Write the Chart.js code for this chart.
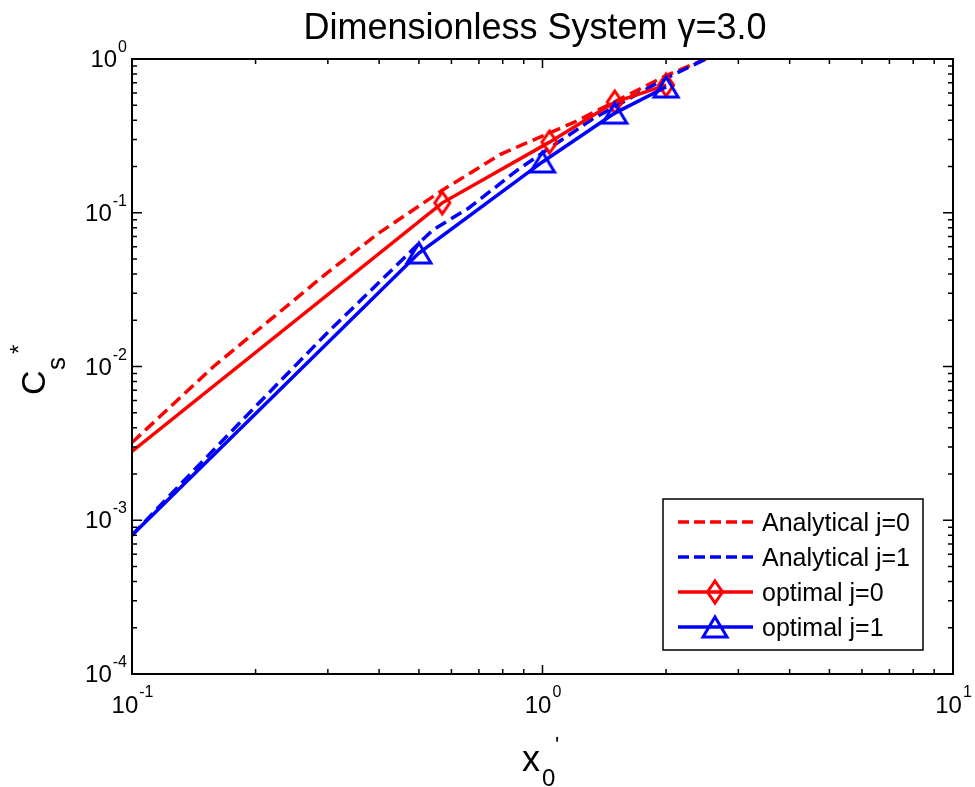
<!DOCTYPE html>
<html>
<head>
<meta charset="utf-8">
<script src="https://cdn.jsdelivr.net/npm/chart.js@4.4.1/dist/chart.umd.min.js"></script>
<style>
  html, body { margin: 0; padding: 0; background: #fff; }
  #plot { display: block; }
</style>
</head>
<body>
<canvas id="plot" width="975" height="787"></canvas>
<script>
// analytical solutions
const anaJ0X = [0.1, 0.158, 0.30, 0.40, 0.57, 0.79, 1.2, 2.0, 2.5, 3.0];
const anaJ0Y = [3.2e-3, 1.0e-2, 0.041, 0.074, 0.14, 0.24, 0.39, 0.78, 1.0, 1.25];
const anaJ1X = [0.1, 0.13, 0.2, 0.3, 0.46, 0.54, 0.66, 0.87, 1.0, 1.33, 2.0, 2.5, 3.0];
const anaJ1Y = [8.0e-4, 1.67e-3, 5.5e-3, 0.0167, 0.0508, 0.0772, 0.107, 0.19, 0.245, 0.41, 0.75, 1.0, 1.3];

// optimised solutions
const optJ0X = [0.1, 0.57, 1.04, 1.5, 2.0];
const optJ0Y = [2.8e-3, 0.116, 0.288, 0.525, 0.677];
const optJ1X = [0.1, 0.5, 1.0, 1.5, 2.0];
const optJ1Y = [8.0e-4, 0.0547, 0.214, 0.445, 0.657];

// decade labels
const xTicks = [0.1, 1, 10];
const xTickExp = ['-1', '0', '1'];
const yTicks = [1e-4, 1e-3, 1e-2, 1e-1, 1];
const yTickExp = ['-4', '-3', '-2', '-1', '0'];

const legendLabels = ['Analytical j=0', 'Analytical j=1', 'optimal j=0', 'optimal j=1'];

const FONT = '"Liberation Sans", Arial, sans-serif';
const RED = '#ff0000';
const BLUE = '#0000ff';

function markerDiamond(color) {
    const c = document.createElement('canvas');
    c.width = 22;
    c.height = 28;
    const g = c.getContext('2d');
    g.strokeStyle = color;
    g.lineWidth = 3;
    g.beginPath();
    g.moveTo(11, 3);
    g.lineTo(18.5, 14);
    g.lineTo(11, 25);
    g.lineTo(3.5, 14);
    g.closePath();
    g.stroke();
    return c;
}

function markerTriangle(color) {
    const c = document.createElement('canvas');
    c.width = 30;
    c.height = 26;
    const g = c.getContext('2d');
    g.strokeStyle = color;
    g.lineWidth = 3;
    g.lineJoin = 'miter';
    g.beginPath();
    g.moveTo(15, 3);
    g.lineTo(27, 23);
    g.lineTo(3, 23);
    g.closePath();
    g.stroke();
    return c;
}

const redDiamond = markerDiamond(RED);
const blueTriangle = markerTriangle(BLUE);

function pairs(xs, ys) {
    return xs.map((x, i) => ({ x, y: ys[i] }));
}

// no marker on the point that sits on the left axis
function markerRadii(n) {
    return Array.from({ length: n }, (_, i) => (i === 0 ? 0 : 6));
}

const axesFrame = {
    id: 'axesFrame',
    afterDraw(chart) {
        const { ctx, chartArea: a, scales: { x, y } } = chart;
        ctx.save();
        ctx.strokeStyle = '#000';
        ctx.fillStyle = '#000';

        // log ticks on all four sides, pointing inwards
        ctx.lineWidth = 1.5;
        ctx.beginPath();
        for (let d = -1; d < 1; d++) {
            for (let k = 1; k < 10; k++) {
                const v = k * Math.pow(10, d);
                if (v <= 0.1) continue;
                const px = x.getPixelForValue(v);
                const len = k === 1 ? 9 : 5;
                ctx.moveTo(px, a.bottom);
                ctx.lineTo(px, a.bottom - len);
                ctx.moveTo(px, a.top);
                ctx.lineTo(px, a.top + len);
            }
        }
        for (let d = -4; d < 0; d++) {
            for (let k = 1; k < 10; k++) {
                const v = k * Math.pow(10, d);
                if (v <= 1e-4) continue;
                const py = y.getPixelForValue(v);
                const len = k === 1 ? 10 : 5;
                ctx.moveTo(a.left, py);
                ctx.lineTo(a.left + len, py);
                ctx.moveTo(a.right, py);
                ctx.lineTo(a.right - len, py);
            }
        }
        ctx.stroke();

        ctx.lineWidth = 2;
        ctx.strokeRect(a.left, a.top, a.right - a.left, a.bottom - a.top);

        // decade labels
        ctx.textBaseline = 'alphabetic';
        ctx.textAlign = 'left';
        xTicks.forEach((v, i) => {
            const px = x.getPixelForValue(v);
            ctx.font = '24px ' + FONT;
            const wBase = ctx.measureText('10').width;
            ctx.font = '16px ' + FONT;
            const wExp = ctx.measureText(xTickExp[i]).width;
            const x0 = px - (wBase + wExp) / 2;
            ctx.font = '24px ' + FONT;
            ctx.fillText('10', x0, 713);
            ctx.font = '16px ' + FONT;
            ctx.fillText(xTickExp[i], x0 + wBase + 1, 697);
        });
        yTicks.forEach((v, i) => {
            const py = y.getPixelForValue(v);
            ctx.font = '16px ' + FONT;
            const wExp = ctx.measureText(yTickExp[i]).width;
            ctx.textAlign = 'right';
            ctx.fillText(yTickExp[i], 127, py - 7);
            ctx.font = '24px ' + FONT;
            ctx.fillText('10', 126 - wExp, py + 8);
        });

        // title
        ctx.textAlign = 'center';
        ctx.font = '36px ' + FONT;
        ctx.fillText('Dimensionless System \u03b3=3.0', 535, 39);

        // x axis label
        ctx.textAlign = 'left';
        ctx.font = '36px ' + FONT;
        ctx.fillText('x', 522, 771);
        ctx.font = '24px ' + FONT;
        ctx.fillText('0', 542, 786);
        ctx.font = '22px ' + FONT;
        ctx.fillText("'", 555, 752);

        // y axis label, read bottom to top
        ctx.save();
        ctx.translate(45, 395);
        ctx.rotate(-Math.PI / 2);
        ctx.font = '34px ' + FONT;
        ctx.fillText('C', 0, 0);
        ctx.font = '26px ' + FONT;
        ctx.fillText('s', 25, 20);
        ctx.font = '24px ' + FONT;
        ctx.fillText('*', 41, -18);
        ctx.restore();

        // legend
        const lx = 663, ly = 499, lw = 260, lh = 151;
        ctx.fillStyle = '#fff';
        ctx.fillRect(lx, ly, lw, lh);
        ctx.lineWidth = 1.5;
        ctx.strokeStyle = '#000';
        ctx.strokeRect(lx, ly, lw, lh);
        const rows = [522, 557, 592, 627];
        const colors = [RED, BLUE, RED, BLUE];
        const markers = [null, null, redDiamond, blueTriangle];
        rows.forEach((ry, i) => {
            ctx.save();
            ctx.strokeStyle = colors[i];
            ctx.lineWidth = 3.5;
            ctx.setLineDash(i < 2 ? [11, 5] : []);
            ctx.beginPath();
            ctx.moveTo(678, ry);
            ctx.lineTo(753, ry);
            ctx.stroke();
            ctx.restore();
            if (markers[i]) {
                const m = markers[i];
                ctx.drawImage(m, 715 - m.width / 2, ry - m.height / 2);
            }
            ctx.fillStyle = '#000';
            ctx.font = '25px ' + FONT;
            ctx.textAlign = 'left';
            ctx.fillText(legendLabels[i], 762, ry + 9);
        });

        ctx.restore();
    }
};

const ctx = document.getElementById('plot').getContext('2d');
new Chart(ctx, {
    type: 'line',
    data: {
        datasets: [
            {
                label: legendLabels[0],
                data: pairs(anaJ0X, anaJ0Y),
                borderColor: RED,
                borderWidth: 3.5,
                borderDash: [12, 6],
                pointRadius: 0,
                order: 4
            },
            {
                label: legendLabels[1],
                data: pairs(anaJ1X, anaJ1Y),
                borderColor: BLUE,
                borderWidth: 3.5,
                borderDash: [12, 6],
                pointRadius: 0,
                order: 3
            },
            {
                label: legendLabels[2],
                data: pairs(optJ0X, optJ0Y),
                borderColor: RED,
                borderWidth: 3.5,
                pointStyle: redDiamond,
                pointRadius: markerRadii(optJ0X.length),
                order: 2
            },
            {
                label: legendLabels[3],
                data: pairs(optJ1X, optJ1Y),
                borderColor: BLUE,
                borderWidth: 3.5,
                pointStyle: blueTriangle,
                pointRadius: markerRadii(optJ1X.length),
                order: 1
            }
        ]
    },
    options: {
        responsive: false,
        animation: false,
        devicePixelRatio: 1,
        layout: { padding: { top: 59, right: 22, left: 0, bottom: 0 } },
        elements: { line: { tension: 0, fill: false } },
        scales: {
            x: {
                type: 'logarithmic',
                min: 0.1,
                max: 10,
                ticks: { display: false },
                grid: { display: false },
                border: { display: false },
                afterFit(scale) { scale.height = 113; }
            },
            y: {
                type: 'logarithmic',
                min: 1e-4,
                max: 1,
                ticks: { display: false },
                grid: { display: false },
                border: { display: false },
                afterFit(scale) { scale.width = 132; }
            }
        },
        plugins: {
            legend: { display: false },
            tooltip: { enabled: false }
        }
    },
    plugins: [axesFrame]
});
</script>
</body>
</html>
